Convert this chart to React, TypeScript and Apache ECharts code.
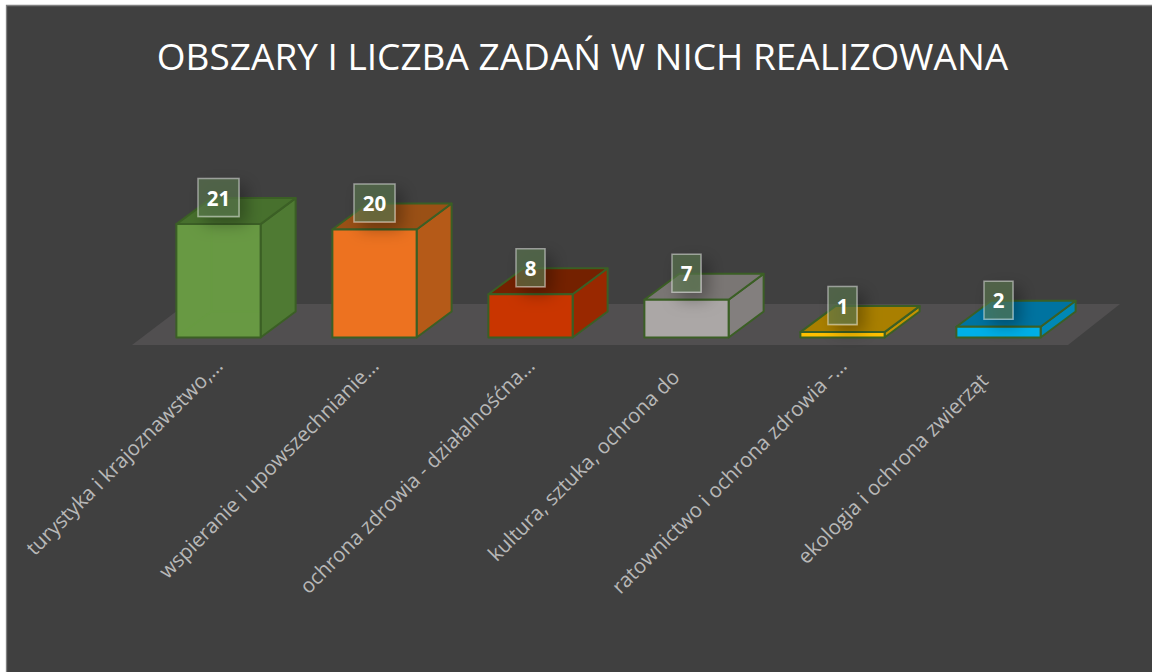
import React, { useEffect, useRef } from "react";
import * as echarts from "echarts";

const titleText = "OBSZARY I LICZBA ZADAŃ W NICH REALIZOWANA";
const categories = [
  "turystyka i krajoznawstwo,...",
  "wspieranie i upowszechnianie...",
  "ochrona zdrowia - działalnośćna...",
  "kultura, sztuka, ochrona do",
  "ratownictwo i ochrona zdrowia -...",
  "ekologia i ochrona zwierząt",
];
const labelPadding = [0, 0, 0, 16, 0, 21];
const values = [21, 20, 8, 7, 1, 2];
const frontColors = ["#6a9e43", "#ed7220", "#c93500", "#aba7a6", "#ffc000", "#00b0e8"];
const sideColors = ["#4f7a33", "#b55a18", "#992800", "#837f7e", "#c49300", "#0088b5"];
const topColors = ["#47702d", "#9a5015", "#742100", "#7a7674", "#a97f00", "#0073a0"];
const frontOpacity = [0.94, 1, 1, 1, 1, 1];

const DX = 35;
const DY = -26;
const EDGE = "#3b5f25";

export default function App() {
  const ref = useRef<HTMLDivElement>(null);
  useEffect(() => {
    const chart = echarts.init(ref.current!, null, { renderer: "svg" });
    chart.setOption({
      animation: false,
      backgroundColor: "#ffffff",
      title: {
        text: titleText,
        left: 577.5,
        top: 32,
        textAlign: "center",
        textStyle: { color: "#ffffff", fontFamily: "Open Sans", fontSize: 37, fontWeight: "normal" },
      },
      graphic: [
        {
          type: "rect",
          z: -10,
          shape: { x: 6.5, y: 5.5, width: 1160, height: 680 },
          style: { fill: "#404040", stroke: "#808080", lineWidth: 1.3 },
        },
        {
          type: "polygon",
          z: -9,
          shape: { points: [[132, 345], [1068, 345], [1120, 304], [186, 304]] },
          style: { fill: "#514f50" },
        },
      ],
      grid: { left: 140.5, width: 936, top: 202.5, height: 135 },
      xAxis: {
        type: "category",
        data: categories.map((c, i) => ({
          value: c,
          textStyle: { padding: [0, labelPadding[i], 0, 0] },
        })),
        axisLine: { show: false },
        axisTick: { show: false },
        axisLabel: {
          interval: 0,
          rotate: 45,
          margin: 24,
          color: "#b8b8b8",
          fontFamily: "Open Sans",
          fontSize: 20.5,
        },
      },
      yAxis: { type: "value", min: 0, max: 25, show: false, splitLine: { show: false } },
      series: [
        {
          type: "custom",
          data: values.map((v, i) => [i, v]),
          encode: { x: 0, y: 1 },
          clip: false,
          renderItem: (params: any, api: any) => {
            const i = api.value(0);
            const v = api.value(1);
            const [cx, y0] = api.coord([i, 0]);
            const [, y1] = api.coord([i, v]);
            const w = api.size([1, 0])[0] * 0.54;
            const l = cx - w / 2;
            const r = cx + w / 2;
            const edge = { stroke: EDGE, lineWidth: 2, lineJoin: "round" };
            const children: any[] = [];
            children.push({
              type: "polygon",
              shape: { points: [[r, y1], [r + DX, y1 + DY], [r + DX, y0 + DY], [r, y0]] },
              style: { fill: sideColors[i], ...edge },
            });
            children.push({
              type: "polygon",
              shape: { points: [[l, y1], [l + DX, y1 + DY], [r + DX, y1 + DY], [r, y1]] },
              style: { fill: topColors[i], ...edge },
            });
            if (frontOpacity[i] < 1) {
              children.push({
                type: "rect",
                shape: { x: l, y: y1, width: w, height: y0 - y1 },
                style: { fill: "#404040" },
              });
              children.push({
                type: "polyline",
                shape: { points: [[l + DX, y1], [l + DX, y0 + DY], [r, y0 + DY]] },
                style: { fill: "none", stroke: EDGE, lineWidth: 1.5 },
              });
              children.push({
                type: "line",
                shape: { x1: l + DX, y1: y0 + DY, x2: l, y2: y0 },
                style: { stroke: EDGE, lineWidth: 1.5 },
              });
            }
            children.push({
              type: "rect",
              shape: { x: l, y: y1, width: w, height: y0 - y1 },
              style: { fill: frontColors[i], opacity: frontOpacity[i], stroke: null },
            });
            children.push({
              type: "rect",
              shape: { x: l, y: y1, width: w, height: y0 - y1 },
              style: { fill: "none", ...edge },
            });
            const digits = String(v).length;
            const bw = digits > 1 ? 41 : 29;
            const bh = 38;
            const by = y1 - 26.5 - bh / 2;
            children.push({
              type: "rect",
              shape: { x: cx - bw / 2, y: by, width: bw, height: bh },
              style: {
                fill: "rgba(90,120,80,0.6)",
                stroke: "rgba(255,255,255,0.45)",
                lineWidth: 1.5,
                shadowBlur: 16,
                shadowOffsetX: 7,
                shadowOffsetY: 7,
                shadowColor: "rgba(0,0,0,0.5)",
              },
            });
            children.push({
              type: "text",
              style: {
                text: String(v),
                x: cx,
                y: by + bh / 2,
                align: "center",
                verticalAlign: "middle",
                fill: "#ffffff",
                font: "bold 20.5px 'Open Sans'",
              },
            });
            return { type: "group", children };
          },
        },
      ],
    });
    return () => chart.dispose();
  }, []);
  return <div ref={ref} style={{ position: "fixed", left: 0, top: 0, width: 1152, height: 672 }} />;
}
